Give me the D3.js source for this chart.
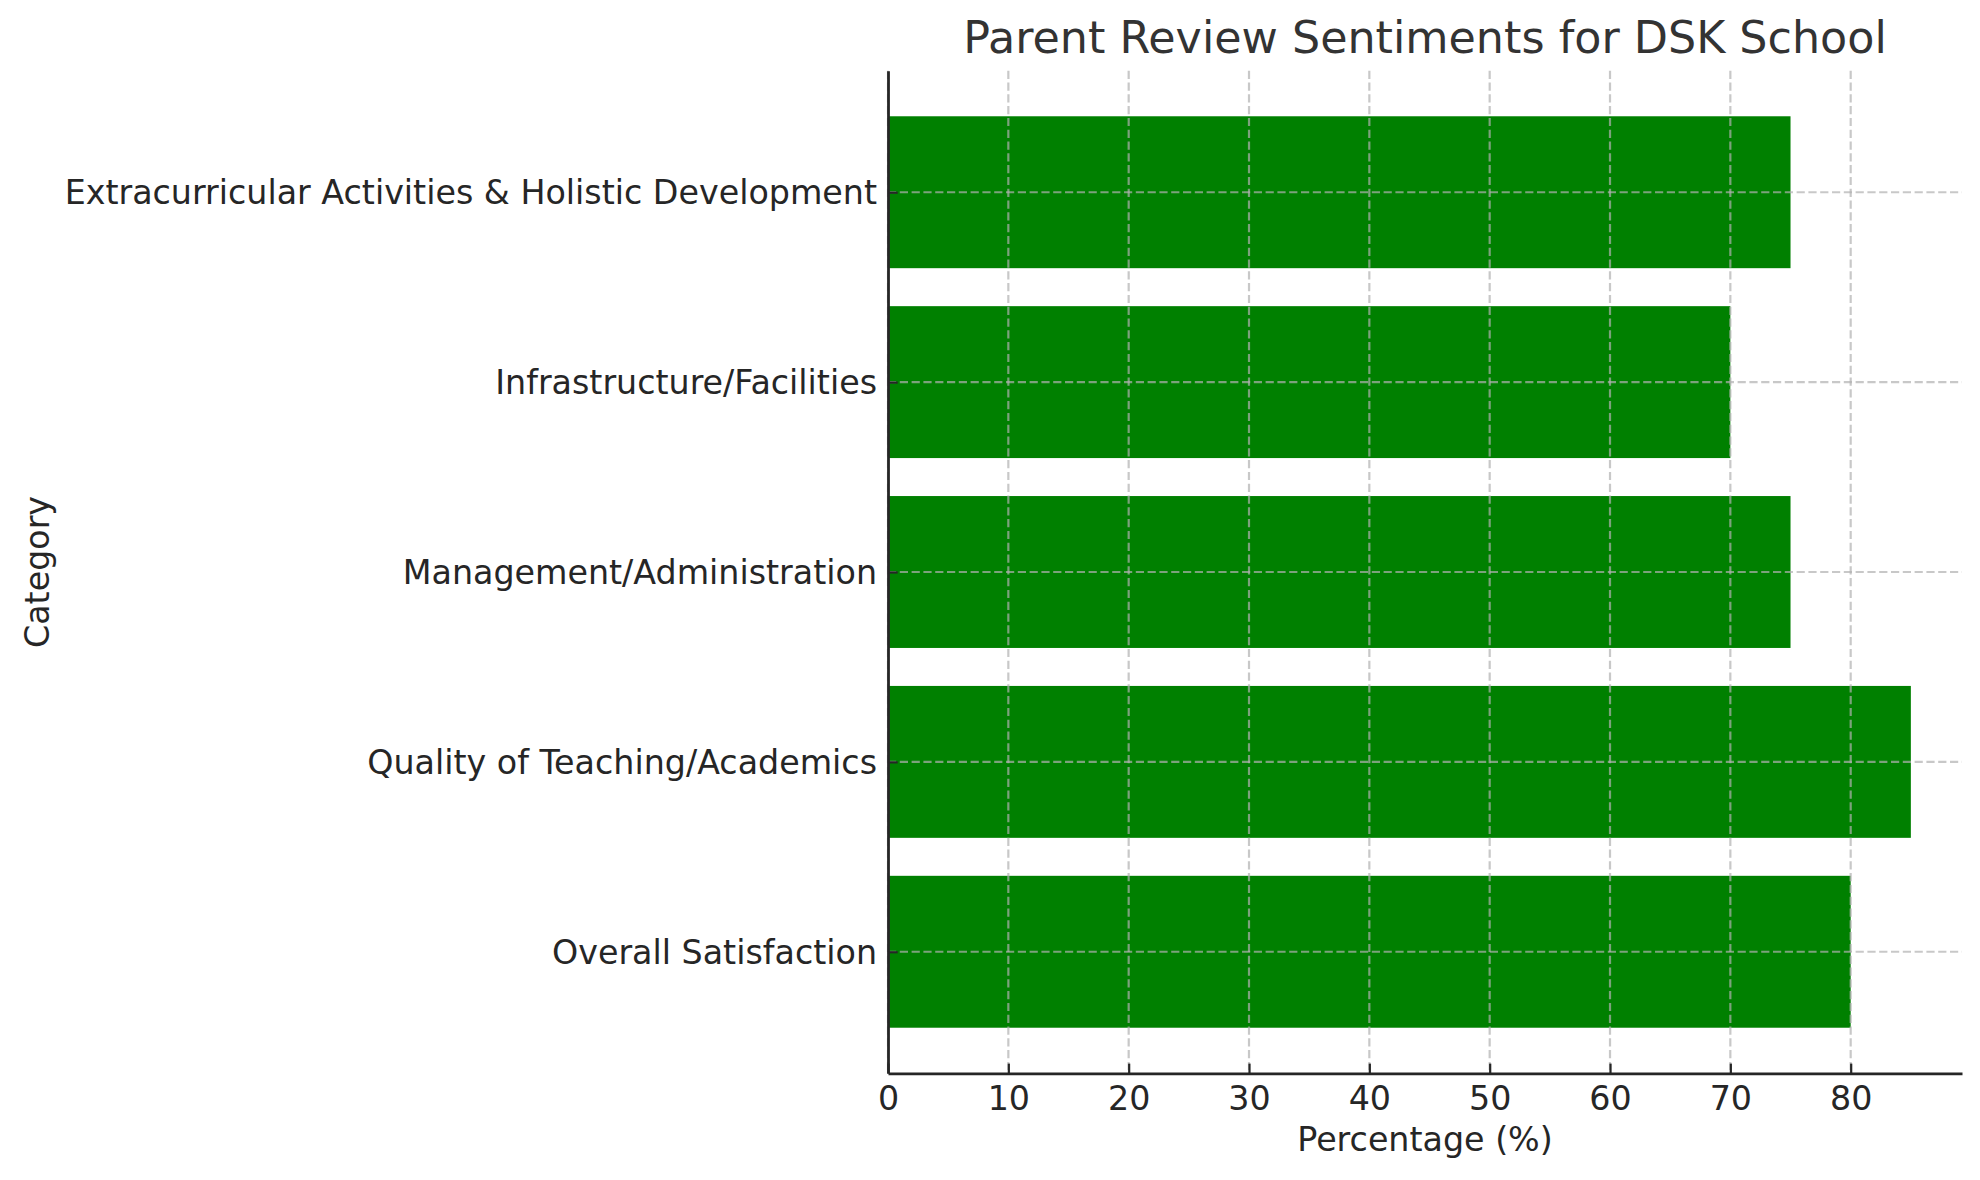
<!DOCTYPE html>
<html>
<head>
<meta charset="utf-8">
<script src="https://cdn.jsdelivr.net/npm/d3@7"></script>
<style>
  body { margin: 0; background: #fff; }
  svg { display: block; font-family: 'DejaVu Sans', sans-serif; }
</style>
</head>
<body>
<div class="svg-container"></div>
<script>
const categories = [
  'Overall Satisfaction',
  'Quality of Teaching/Academics',
  'Management/Administration',
  'Infrastructure/Facilities',
  'Extracurricular Activities & Holistic Development'
]
const percentages = [80, 85, 75, 70, 75]
const xTicks = [0, 10, 20, 30, 40, 50, 60, 70, 80]

const svgWidth = 1980
const svgHeight = 1180
const plotLeft = 888
const plotRight = 1962
const plotTop = 70.7
const plotBottom = 1073.3
const barHeight = 0.8
const textColor = '#262626'

const svg = d3
  .select('.svg-container')
  .append('svg')
  .attr('width', svgWidth)
  .attr('height', svgHeight)

const xScale = d3.scaleLinear([0, d3.max(percentages) * 1.05], [plotLeft, plotRight])
const yScale = d3.scaleLinear([-0.4 - 0.24, categories.length - 0.6 + 0.24], [plotBottom, plotTop])

// bars
svg
  .append('g')
  .selectAll('rect')
  .data(percentages)
  .join('rect')
  .attr('x', xScale(0))
  .attr('y', (d, i) => yScale(i + barHeight / 2))
  .attr('width', (d) => xScale(d) - xScale(0))
  .attr('height', (d, i) => yScale(i - barHeight / 2) - yScale(i + barHeight / 2))
  .attr('fill', '#008000')

// grid, drawn over the bars
const grid = svg
  .append('g')
  .attr('stroke', '#b0b0b0')
  .attr('stroke-opacity', 0.7)
  .attr('stroke-width', 2.2)
  .attr('stroke-dasharray', '8.2,3.6')

grid
  .selectAll('.vgrid')
  .data(xTicks)
  .join('line')
  .classed('vgrid', true)
  .attr('x1', (d) => xScale(d))
  .attr('x2', (d) => xScale(d))
  .attr('y1', plotTop)
  .attr('y2', plotBottom)

grid
  .selectAll('.hgrid')
  .data(categories)
  .join('line')
  .classed('hgrid', true)
  .attr('x1', plotLeft)
  .attr('x2', plotRight)
  .attr('y1', (d, i) => yScale(i))
  .attr('y2', (d, i) => yScale(i))

// axes
const xAxis = svg
  .append('g')
  .attr('id', 'x-axis')
  .attr('transform', `translate(0, ${plotBottom})`)
  .call(
    d3.axisBottom(xScale)
      .tickValues(xTicks)
      .tickFormat(d3.format('d'))
      .tickSizeInner(-9.7)
      .tickSizeOuter(0)
      .tickPadding(13)
  )

const yAxis = svg
  .append('g')
  .attr('id', 'y-axis')
  .attr('transform', `translate(${plotLeft}, 0)`)
  .call(
    d3.axisLeft(yScale)
      .tickValues(d3.range(categories.length))
      .tickFormat((d) => categories[d])
      .tickSizeInner(-9.7)
      .tickSizeOuter(0)
      .tickPadding(11)
  )

for (const axis of [xAxis, yAxis]) {
  axis.attr('font-family', null).attr('font-size', null)
  axis.select('.domain').attr('stroke', textColor).attr('stroke-width', 2.8)
  axis.selectAll('.tick line').attr('stroke', textColor).attr('stroke-width', 2.2)
  axis.selectAll('.tick text').attr('fill', textColor).style('font-size', '33.3px')
}
yAxis.selectAll('.tick text').attr('dy', '0.35em')

// titles
svg
  .append('text')
  .attr('x', (plotLeft + plotRight) / 2)
  .attr('y', 53)
  .attr('text-anchor', 'middle')
  .attr('fill', '#333333')
  .style('font-size', '44.4px')
  .text('Parent Review Sentiments for DSK School')

svg
  .append('text')
  .attr('x', (plotLeft + plotRight) / 2)
  .attr('y', 1151)
  .attr('text-anchor', 'middle')
  .attr('fill', textColor)
  .style('font-size', '33.3px')
  .text('Percentage (%)')

svg
  .append('text')
  .attr('transform', `translate(49, ${(plotTop + plotBottom) / 2}) rotate(-90)`)
  .attr('text-anchor', 'middle')
  .attr('fill', textColor)
  .style('font-size', '33.3px')
  .text('Category')
</script>
</body>
</html>
